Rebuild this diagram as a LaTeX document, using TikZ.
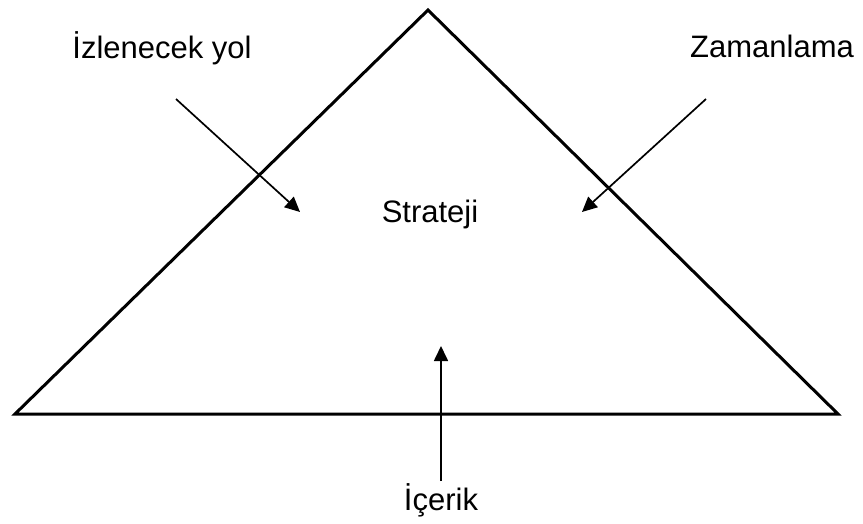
\documentclass[tikz,border=0pt]{standalone}
\usepackage{fontspec}
\setmainfont{Liberation Sans}
\usetikzlibrary{arrows.meta}
\begin{document}
\begin{tikzpicture}[x=1pt,y=-1pt,
  lbl/.style={font=\fontsize{31}{36}\selectfont, inner sep=0pt, anchor=base},
  edge/.style={line width=3pt, line join=miter},
  arr/.style={line width=1.7pt, -{Triangle[length=15pt,width=14pt]}}]
\useasboundingbox (0,0) rectangle (863,523);
\coordinate (top) at (428,10);
\coordinate (left) at (15,414);
\coordinate (right) at (838,414);
\draw[edge] (top) -- (left) -- (right) -- cycle;
\node[lbl] (izl) at (162,58) {İzlenecek yol};
\node[lbl] (zam) at (772,57) {Zamanlama};
\node[lbl] (str) at (430,222) {Strateji};
\node[lbl] (ice) at (441,510) {İçerik};
\coordinate (a1s) at (176,99);
\coordinate (a1e) at (300,212);
\coordinate (a2s) at (706,99);
\coordinate (a2e) at (582,212);
\coordinate (a3s) at (441,481);
\coordinate (a3e) at (441,346);
\draw[arr] (a1s) -- (a1e);
\draw[arr] (a2s) -- (a2e);
\draw[arr] (a3s) -- (a3e);
\end{tikzpicture}
\end{document}
